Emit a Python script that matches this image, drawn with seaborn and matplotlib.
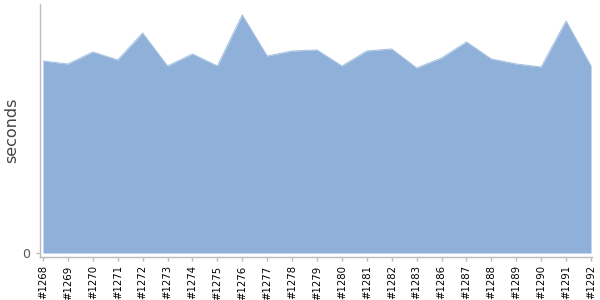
import matplotlib
matplotlib.use("Agg")
import matplotlib.pyplot as plt
import seaborn as sns
import pandas as pd

builds = ["#1268", "#1269", "#1270", "#1271", "#1272", "#1273", "#1274", "#1275",
          "#1276", "#1277", "#1278", "#1279", "#1280", "#1281", "#1282", "#1283",
          "#1286", "#1287", "#1288", "#1289", "#1290", "#1291", "#1292"]
seconds = [192, 189, 201, 193, 220, 187, 199, 187, 238, 197, 202, 203, 187,
           202, 204, 185, 195, 211, 194, 189, 186, 232, 187]

df = pd.DataFrame({"build": builds, "seconds": seconds, "pos": range(len(builds))})

sns.set_style("white")
fig = plt.figure(figsize=(6, 3), dpi=100)
ax = fig.add_axes([40/600, 1 - 257/300, 552/600, 253/300])

fill_color = "#8eb0d9"
ax.fill_between(df["pos"], 0, df["seconds"], color=fill_color, linewidth=0)
sns.lineplot(data=df, x="pos", y="seconds", ax=ax, color="#a9c3e3", linewidth=0.8)

ax.set_xlim(-3/24.91, 22 + 1/24.91)
ax.set_ylim(-4, 249)
ax.set_xticks(df["pos"])
ax.set_xticklabels(builds, rotation=90, fontsize=7.3, color="black")
ax.set_yticks([0])
ax.set_yticklabels(["0"], fontsize=9, color="#555555")
ax.set_xlabel("")
ax.set_ylabel("seconds", fontsize=11.5, color="#444444", labelpad=2)

for s in ["top", "right"]:
    ax.spines[s].set_visible(False)
for s in ["left", "bottom"]:
    ax.spines[s].set_color("#bbbbbb")
    ax.spines[s].set_linewidth(1)
ax.tick_params(axis="x", length=3, color="#bbbbbb", width=1, pad=3, bottom=True)
ax.tick_params(axis="y", length=3, color="#bbbbbb", width=1, pad=4, left=True)

fig.savefig("out.png", dpi=100)
